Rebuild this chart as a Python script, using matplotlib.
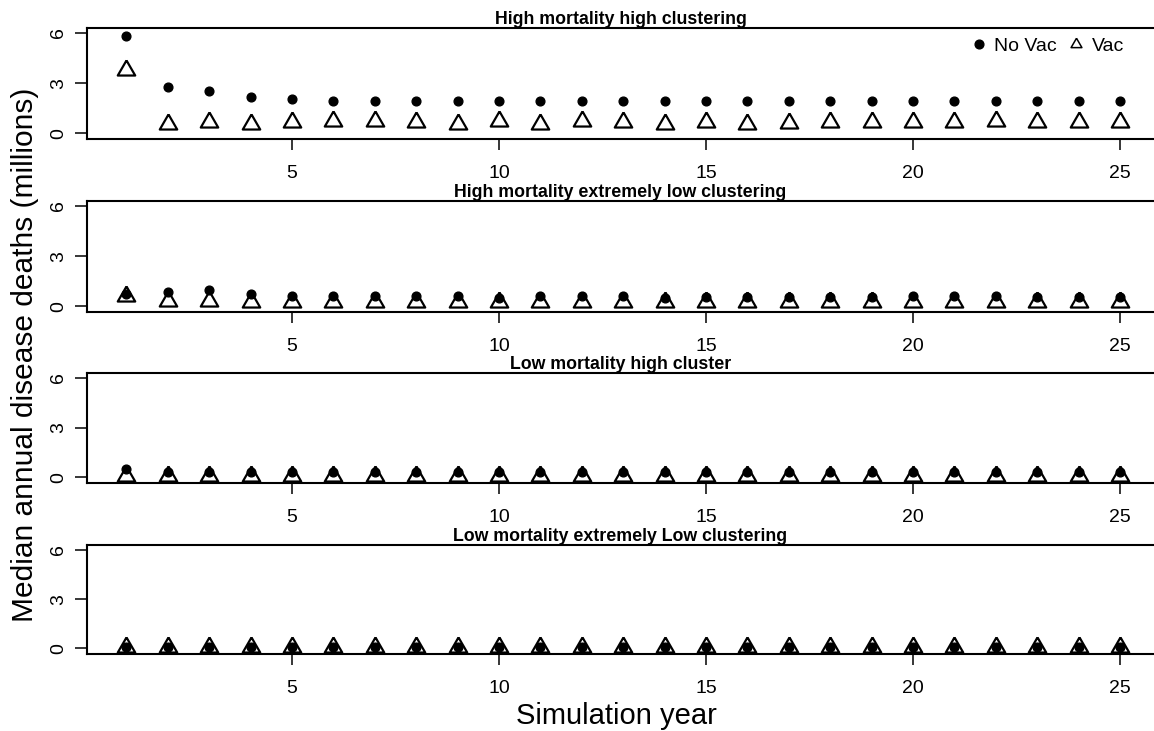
import numpy as np
import matplotlib.pyplot as plt
from matplotlib.lines import Line2D

plt.rcParams["font.family"] = ["Liberation Sans", "DejaVu Sans"]

# ===============================
# Data (millions of deaths)
# ===============================
years = np.arange(1, 26)

titles = [
    "High mortality high clustering",
    "High mortality extremely low clustering",
    "Low mortality high cluster",
    "Low mortality extremely Low clustering",
]

novac_hh = [5.8, 2.75, 2.55, 2.15, 2.05, 1.95, 1.95, 1.95, 1.95, 1.95, 1.95, 1.95, 1.95,
            1.95, 1.95, 1.95, 1.95, 1.95, 1.95, 1.95, 1.95, 1.95, 1.95, 1.95, 1.95]
vac_hh = [3.8, 0.56, 0.68, 0.54, 0.66, 0.70, 0.74, 0.68, 0.52, 0.70, 0.52, 0.70, 0.68,
          0.52, 0.68, 0.52, 0.62, 0.68, 0.68, 0.64, 0.64, 0.74, 0.68, 0.68, 0.68]

novac_hl = [0.75, 0.85, 0.95, 0.70, 0.60, 0.60, 0.60, 0.60, 0.60, 0.50, 0.62, 0.62, 0.62,
            0.50, 0.55, 0.52, 0.52, 0.52, 0.52, 0.62, 0.62, 0.62, 0.52, 0.52, 0.52]
vac_hl = [0.60, 0.30, 0.30, 0.25, 0.25, 0.25, 0.25, 0.25, 0.25, 0.25, 0.25, 0.25, 0.25,
          0.25, 0.25, 0.25, 0.25, 0.25, 0.25, 0.25, 0.25, 0.25, 0.25, 0.25, 0.25]

novac_lh = [0.48, 0.34, 0.34, 0.34, 0.34, 0.34, 0.34, 0.34, 0.34, 0.34, 0.34, 0.34, 0.34,
            0.34, 0.34, 0.34, 0.34, 0.34, 0.34, 0.34, 0.34, 0.34, 0.34, 0.34, 0.34]
vac_lh = [0.10, 0.05, 0.05, 0.05, 0.05, 0.05, 0.05, 0.05, 0.05, 0.05, 0.05, 0.05, 0.05,
          0.05, 0.05, 0.05, 0.05, 0.05, 0.05, 0.05, 0.05, 0.05, 0.05, 0.05, 0.05]

novac_ll = [0.05] * 25
vac_ll = [0.08] * 25

novac = [novac_hh, novac_hl, novac_lh, novac_ll]
vac = [vac_hh, vac_hl, vac_lh, vac_ll]

# R-style open triangle (centred on its centroid)
tri = [(0, 1), (-0.866, -0.5), (0.866, -0.5), (0, 1)]

# ===============================
# Figure
# ===============================
fig = plt.figure(figsize=(11.54, 7.31), dpi=100)

# panel boxes in pixels: (top, bottom)
boxes = [(28, 139), (201, 312), (373, 483), (545, 654)]
left_px = 87
W, H = 1154, 731

axes = []
for i, (top, bot) in enumerate(boxes):
    ax = fig.add_axes([left_px / W, 1 - bot / H, 1 - left_px / W, (bot - top) / H])
    ax.plot(years, vac[i], linestyle="none", marker=tri, ms=14.5, mfc="none",
            mec="black", mew=1.6, zorder=2)
    ax.plot(years, novac[i], linestyle="none", marker="o", ms=6.3, mfc="black",
            mec="black", zorder=3)
    ax.set_xlim(0.048, 25.82)
    ax.set_ylim(-0.35, 6.3)
    ax.set_yticks([0, 3, 6])
    ax.set_xticks([5, 10, 15, 20, 25])
    ax.spines["right"].set_visible(False)
    for s in ["left", "top", "bottom"]:
        ax.spines[s].set_linewidth(1.5)
    ax.tick_params(axis="x", length=8, width=1.1, pad=10.5, labelsize=14)
    ax.tick_params(axis="y", length=9, width=1.1, pad=5.5, labelsize=14,
                   labelrotation=90)
    for lab in ax.get_yticklabels():
        lab.set_verticalalignment("center")
    ax.set_title(titles[i], fontsize=12.8, fontweight="bold", pad=1)
    axes.append(ax)

# Legend in the top panel
handles = [
    Line2D([], [], linestyle="none", marker="o", ms=6.3, mfc="black", mec="black"),
    Line2D([], [], linestyle="none", marker=tri, ms=9, mfc="none", mec="black", mew=1.1),
]
axes[0].legend(handles, ["No Vac", "Vac"], loc="center right", ncol=2,
               bbox_to_anchor=(0.972, 0.838), frameon=False, fontsize=14,
               handlelength=0.8, handletextpad=0.4, columnspacing=0.6,
               borderpad=0, borderaxespad=0)

fig.text(0.022, 0.515, "Median annual disease deaths (millions)", rotation=90,
         ha="center", va="center", fontsize=21.5)
fig.text(0.534, 0.02, "Simulation year", ha="center", va="center", fontsize=21)

plt.savefig("out.png", dpi=100)
plt.close()
